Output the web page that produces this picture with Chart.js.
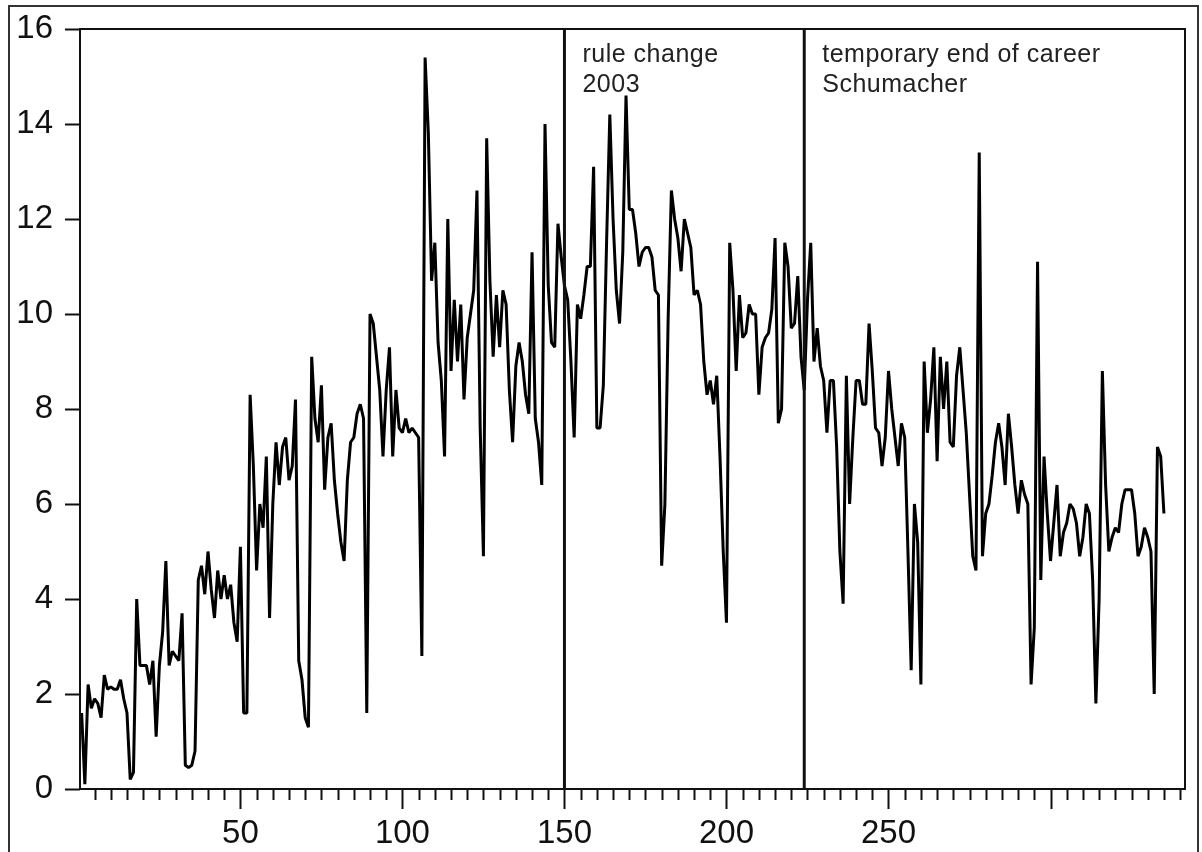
<!DOCTYPE html>
<html>
<head>
<meta charset="utf-8">
<script src="https://cdn.jsdelivr.net/npm/chart.js@4"></script>
<style>
  html, body { margin: 0; padding: 0; background: #fff; }
  #frame { position: absolute; left: 8px; top: 5px; width: 1187px; height: 848px; border: 2px solid #333; }
  #wrap { position: absolute; left: 0; top: 0; width: 1202px; height: 852px; }
</style>
</head>
<body>
<div id="frame"></div>
<div id="wrap"><canvas id="chart" width="1202" height="852"></canvas></div>
<script>
// 目盛り
const xLabels = [50, 100, 150, 200, 250];
const yLabels = [0, 2, 4, 6, 8, 10, 12, 14, 16];

// 縦線と注記
const markers = [150, 224];
const markerText = [
  ["rule change", "2003"],
  ["temporary end of career", "Schumacher"],
];

// 系列 (1..335)
const values = [
  1.6, 0.1, 2.2, 1.7, 1.9, 1.8, 1.5, 2.4, 2.1, 2.15,
  2.1, 2.1, 2.3, 1.9, 1.6, 0.2, 0.35, 4.0, 2.6, 2.6,
  2.6, 2.2, 2.7, 1.1, 2.6, 3.3, 4.8, 2.6, 2.9, 2.8,
  2.7, 3.7, 0.5, 0.45, 0.5, 0.8, 4.4, 4.7, 4.1, 5.0,
  4.2, 3.6, 4.6, 4.0, 4.5, 4.0, 4.3, 3.5, 3.1, 5.1,
  1.6, 1.6, 8.3, 6.8, 4.6, 6.0, 5.5, 7.0, 3.6, 6.0,
  7.3, 6.4, 7.2, 7.4, 6.5, 6.8, 8.2, 2.7, 2.3, 1.5,
  1.3, 9.1, 7.8, 7.3, 8.5, 6.3, 7.4, 7.7, 6.5, 5.8,
  5.2, 4.8, 6.5, 7.3, 7.4, 7.9, 8.1, 7.8, 1.6, 10.0,
  9.8, 9.1, 8.4, 7.0, 8.4, 9.3, 7.0, 8.4, 7.6, 7.5,
  7.8, 7.5, 7.6, 7.5, 7.4, 2.8, 15.4, 13.8, 10.7, 11.5,
  9.4, 8.6, 7.0, 12.0, 8.8, 10.3, 9.0, 10.2, 8.2, 9.5,
  10.0, 10.5, 12.6, 7.6, 4.9, 13.7, 10.7, 9.1, 10.4, 9.3,
  10.5, 10.2, 8.4, 7.3, 8.9, 9.4, 9.0, 8.3, 7.9, 11.3,
  7.8, 7.3, 6.4, 14.0, 10.6, 9.4, 9.3, 11.9, 11.2, 10.6,
  10.3, 9.0, 7.4, 10.2, 9.9, 10.4, 11.0, 11.0, 13.1, 7.6,
  7.6, 8.5, 11.5, 14.2, 12.0, 10.5, 9.8, 11.3, 14.6, 12.2,
  12.2, 11.7, 11.0, 11.3, 11.4, 11.4, 11.2, 10.5, 10.4, 4.7,
  6.0, 9.9, 12.6, 12.0, 11.6, 10.9, 12.0, 11.7, 11.4, 10.4,
  10.5, 10.2, 9.0, 8.3, 8.6, 8.1, 8.7, 7.0, 5.0, 3.5,
  11.5, 10.5, 8.8, 10.4, 9.5, 9.6, 10.2, 10.0, 10.0, 8.3,
  9.3, 9.5, 9.6, 10.1, 11.6, 7.7, 8.0, 11.5, 11.0, 9.7,
  9.8, 10.8, 9.1, 8.4, 10.3, 11.5, 9.0, 9.7, 8.9, 8.6,
  7.5, 8.6, 8.6, 7.2, 5.0, 3.9, 8.7, 6.0, 7.4, 8.6,
  8.6, 8.1, 8.1, 9.8, 8.8, 7.6, 7.5, 6.8, 7.4, 8.8,
  8.0, 7.4, 6.8, 7.7, 7.4, 5.0, 2.5, 6.0, 5.2, 2.2,
  9.0, 7.5, 8.2, 9.3, 6.9, 9.1, 8.0, 9.0, 7.3, 7.2,
  8.7, 9.3, 8.4, 7.5, 6.2, 4.9, 4.6, 13.4, 4.9, 5.8,
  6.0, 6.6, 7.3, 7.7, 7.2, 6.4, 7.9, 7.2, 6.4, 5.8,
  6.5, 6.2, 6.0, 2.2, 3.4, 11.1, 4.4, 7.0, 5.8, 4.8,
  5.6, 6.4, 4.9, 5.4, 5.6, 6.0, 5.9, 5.6, 4.9, 5.3,
  6.0, 5.8, 4.4, 1.8, 4.0, 8.8, 6.4, 5.0, 5.3, 5.5,
  5.4, 6.0, 6.3, 6.3, 6.3, 5.8, 4.9, 5.1, 5.5, 5.3,
  5.0, 2.0, 7.2, 7.0, 5.8,
];

const FONT = "'Liberation Sans', Arial, sans-serif";
const INK = "#111";

// 枠・目盛り線・縦線・注記
const decor = {
  id: "decor",
  afterDraw(chart) {
    const { ctx, chartArea: a, scales } = chart;
    const xs = scales.x;
    const ys = scales.y;
    ctx.save();
    ctx.strokeStyle = INK;
    ctx.lineWidth = 2;
    ctx.strokeRect(a.left, a.top, a.right - a.left, a.bottom - a.top);

    ctx.beginPath();
    yLabels.forEach((v) => {
      const y = Math.round(ys.getPixelForValue(v)) + 0.5;
      ctx.moveTo(a.left - 15, y);
      ctx.lineTo(a.left, y);
    });
    for (let v = 5; v <= xs.max; v += 5) {
      const x = Math.round(xs.getPixelForValue(v)) + 0.5;
      const len = v % 50 === 0 ? 20 : 11;
      ctx.moveTo(x, a.bottom);
      ctx.lineTo(x, a.bottom + len);
    }
    ctx.stroke();

    ctx.lineWidth = 3;
    ctx.fillStyle = "#222";
    ctx.font = "25px " + FONT;
    ctx.letterSpacing = "0.5px";
    ctx.textBaseline = "alphabetic";
    markers.forEach((m, i) => {
      const x = xs.getPixelForValue(m);
      ctx.beginPath();
      ctx.moveTo(x, a.top);
      ctx.lineTo(x, a.bottom);
      ctx.stroke();
      markerText[i].forEach((t, j) => {
        ctx.fillText(t, x + 18, a.top + 33 + j * 30);
      });
    });
    ctx.restore();
  },
};

new Chart(document.getElementById("chart"), {
  type: "line",
  data: {
    datasets: [
      {
        data: values.map((v, k) => ({ x: k + 1, y: v })),
        borderColor: "#000",
        borderWidth: 3,
        borderJoinStyle: "bevel",
        pointRadius: 0,
        tension: 0,
        fill: false,
      },
    ],
  },
  options: {
    responsive: false,
    animation: false,
    devicePixelRatio: 1,
    layout: { autoPadding: false, padding: { top: 29, right: 17, left: 0, bottom: 0 } },
    plugins: { legend: { display: false }, tooltip: { enabled: false } },
    scales: {
      x: {
        type: "linear",
        min: 0.5,
        max: 341.5,
        grid: { display: false, drawTicks: false },
        border: { display: false },
        afterBuildTicks: (s) => {
          s.ticks = xLabels.map((v) => ({ value: v }));
        },
        afterFit: (s) => {
          s.height = 63;
          s.paddingLeft = 0;
          s.paddingRight = 0;
        },
        ticks: {
          autoSkip: false,
          maxRotation: 0,
          padding: 25,
          color: INK,
          font: { family: FONT, size: 33 },
        },
      },
      y: {
        min: 0,
        max: 16,
        grid: { display: false, drawTicks: false },
        border: { display: false },
        afterBuildTicks: (s) => {
          s.ticks = yLabels.map((v) => ({ value: v }));
        },
        afterFit: (s) => {
          s.width = 80;
          s.paddingTop = 0;
          s.paddingBottom = 0;
        },
        ticks: {
          padding: 27,
          color: INK,
          font: { family: FONT, size: 33 },
        },
      },
    },
  },
  plugins: [decor],
});
</script>
</body>
</html>
